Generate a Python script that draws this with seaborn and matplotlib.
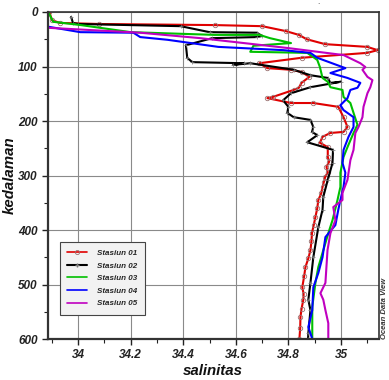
import matplotlib
matplotlib.use("Agg")
import matplotlib.pyplot as plt
import seaborn as sns
import pandas as pd
import numpy as np
from matplotlib.lines import Line2D
from matplotlib.ticker import MultipleLocator

sns.set_style("white")
plt.rcParams['font.family'] = ['Liberation Sans', 'DejaVu Sans']

stations = ["Stasiun 01", "Stasiun 02", "Stasiun 03", "Stasiun 04", "Stasiun 05"]
colors = ["#e00000", "#000000", "#00c000", "#0000ff", "#c000c0"]

# Stasiun 01
s01_sal = [33.89, 33.90, 33.93, 34.08, 34.52, 34.70, 34.79, 34.84, 34.87, 34.94, 35.10, 35.14,
           35.10, 34.85, 34.69, 34.72, 34.81, 34.85, 34.88, 34.85, 34.84, 34.82, 34.74, 34.72,
           34.81, 34.895, 34.99, 35.01, 35.025, 35.01, 34.96, 34.93, 34.92, 34.95, 34.95, 34.955,
           34.945, 34.95, 34.94, 34.935, 34.93, 34.925, 34.914, 34.91, 34.903, 34.897, 34.89,
           34.888, 34.884, 34.876, 34.865, 34.86, 34.853, 34.858, 34.857, 34.85, 34.846, 34.845, 34.842]
s01_dep = [0, 15, 20, 22, 24, 26, 35, 42, 50, 59, 64, 70,
           75, 84, 94, 103, 106, 110, 119, 130, 139, 143, 156, 158,
           167, 167, 174, 193, 211, 220, 222, 229, 240, 248, 266, 275,
           284, 294, 303, 312, 321, 333, 345, 360, 376, 390, 405,
           420, 437, 452, 468, 485, 505, 517, 528, 545, 560, 580, 600]

# Stasiun 02
s02_sal = [33.973, 33.98, 34.0, 34.39, 34.50, 34.68, 34.70, 34.68, 34.51, 34.41, 34.415, 34.434,
           34.63, 34.59, 34.655, 34.82, 34.884, 34.95, 34.96, 35.0, 34.884, 34.81, 34.78, 34.80,
           34.796, 34.82, 34.884, 34.895, 34.89, 34.91, 34.872, 34.97, 34.968, 34.95, 34.933,
           34.93, 34.914, 34.895, 34.884, 34.876, 34.884, 34.876, 34.875]
s02_dep = [9, 20, 22, 26, 37, 38, 44, 46, 48, 61, 84, 92,
           94, 97, 94, 106, 116, 121, 130, 128, 138, 149, 162, 174,
           185, 193, 198, 211, 220, 226, 239, 253, 277, 308, 339,
           363, 395, 450, 497, 528, 547, 589, 600]

# Stasiun 03
s03_sal = [33.886, 33.905, 34.01, 34.20, 34.52, 34.69, 34.73, 34.81, 34.667, 34.655, 34.872, 34.91,
           34.92, 34.93, 34.95, 34.96, 35.006, 35.01, 35.036, 35.048, 35.063, 35.048, 35.025, 35.01,
           34.998, 34.998, 34.987, 34.968, 34.952, 34.933, 34.914, 34.903, 34.891, 34.891]
s03_dep = [0, 18, 24, 37, 42, 42, 48, 57, 62, 73, 75, 88,
           101, 121, 128, 138, 143, 156, 167, 185, 207, 222, 248, 266,
           295, 321, 345, 382, 406, 437, 468, 497, 541, 600]

# Stasiun 04
s04_sal = [33.886, 34.008, 34.21, 34.236, 34.34, 34.533, 34.78, 34.884, 34.91, 35.017, 34.96, 35.025,
           35.074, 35.063, 35.036, 35.025, 34.998, 35.01, 35.048, 35.048, 35.029, 35.01, 35.006, 35.017,
           35.01, 34.998, 34.99, 34.979, 34.941, 34.93, 34.914, 34.895, 34.891, 34.876, 34.891]
s04_dep = [27, 37, 38, 46, 51, 64, 70, 75, 84, 103, 112, 121,
           130, 139, 143, 158, 171, 180, 193, 211, 229, 253, 277, 295,
           321, 345, 363, 391, 413, 450, 479, 505, 547, 578, 600]

# Stasiun 05
s05_sal = [33.886, 34.236, 34.465, 34.796, 35.01, 35.074, 35.093, 35.082, 35.101, 35.12, 35.112, 35.101,
           35.086, 35.082, 35.067, 35.055, 35.048, 35.036, 35.025, 35.006, 35.006, 34.971, 34.979, 34.96,
           34.949, 34.941, 34.922, 34.933, 34.941, 34.952, 34.952]
s05_dep = [29, 38, 48, 66, 79, 94, 101, 106, 119, 125, 138, 149,
           174, 193, 211, 222, 253, 272, 308, 332, 345, 358, 382, 406,
           437, 497, 516, 528, 547, 571, 600]

x_ticks = [34, 34.2, 34.4, 34.6, 34.8, 35]
x_tick_labels = ["34", "34.2", "34.4", "34.6", "34.8", "35"]
y_ticks = [0, 100, 200, 300, 400, 500, 600]

sal_list = [s01_sal, s02_sal, s03_sal, s04_sal, s05_sal]
dep_list = [s01_dep, s02_dep, s03_dep, s04_dep, s05_dep]

frames = []
for name, s, d in zip(stations, sal_list, dep_list):
    frames.append(pd.DataFrame({"salinitas": s, "kedalaman": d, "stasiun": name,
                                "urutan": np.arange(len(s))}))
df = pd.concat(frames, ignore_index=True)

W, H = 389, 380
fig = plt.figure(figsize=(W/100, H/100), dpi=100)
ax = fig.add_axes([48/W, 1-339/H, (379-48)/W, (339-12)/H])

ax.set_xticks(x_ticks)
ax.set_xticklabels(x_tick_labels)
ax.set_yticks(y_ticks)
ax.xaxis.set_minor_locator(MultipleLocator(0.1))
ax.yaxis.set_minor_locator(MultipleLocator(50))
ax.grid(True, which="major", color="#8a8a8a", lw=0.8, zorder=0)
ax.set_axisbelow(True)

markers = ["o", "+", None, None, None]
for name, col, mk in zip(stations, colors, markers):
    sub = df[df["stasiun"] == name]
    kw = {}
    if mk == "o":
        kw = dict(marker="o", markersize=3.2, markerfacecolor="none",
                  markeredgecolor="#9a7070", markeredgewidth=0.6)
    elif mk == "+":
        kw = dict(marker="+", markersize=2.5, markeredgecolor="#777777", markeredgewidth=0.5)
    sns.lineplot(data=sub, x="salinitas", y="kedalaman", sort=False, estimator=None,
                 color=col, lw=1.5, ax=ax, legend=False, **kw)

ax.set_xlim(33.885, 35.145)
ax.set_ylim(600, 0)
ax.set_xlabel("")
ax.set_ylabel("")

for sp in ax.spines.values():
    sp.set_color("#333333")
    sp.set_linewidth(1.2)
ax.spines["left"].set_linewidth(1.6)
ax.spines["bottom"].set_linewidth(1.6)

ax.tick_params(axis="both", which="major", direction="out", length=4, width=1,
               colors="#222222", labelsize=8.5, bottom=True, left=True, top=False, right=False)
ax.tick_params(axis="both", which="minor", direction="out", length=3, width=0.8,
               colors="#222222", bottom=True, left=True, top=False, right=False)
for lab in ax.get_xticklabels() + ax.get_yticklabels():
    lab.set_fontweight("bold")
    lab.set_fontstyle("italic")

fig.text(213/W, 1-371/H, "salinitas", fontsize=10.8, fontweight="bold", fontstyle="italic",
         ha="center", va="center", color="#111111")
fig.text(10/W, 1-175/H, "kedalaman", fontsize=10.8, fontweight="bold", fontstyle="italic",
         rotation=90, ha="center", va="center", color="#111111")

handles = []
for name, col, mk in zip(stations, colors, markers):
    if mk == "o":
        h = Line2D([], [], color=col, lw=1.2, marker="o", markersize=3, markerfacecolor="none",
                   markeredgecolor="#9a7070", markeredgewidth=0.6)
    elif mk == "+":
        h = Line2D([], [], color=col, lw=1.5, marker="+", markersize=3, markeredgecolor="#777777")
    else:
        h = Line2D([], [], color=col, lw=1.2)
    handles.append(h)
leg = ax.legend(handles, stations, loc="upper left",
                bbox_to_anchor=((60-48)/331, 1-(242-12)/327), borderaxespad=0,
                frameon=True, fancybox=False, framealpha=1, edgecolor="#444444",
                facecolor="#f2f2f2", handlelength=2.5, handletextpad=1.2,
                borderpad=0.9, labelspacing=0.62,
                prop={"size": 5.8, "weight": "bold", "style": "italic"})
leg.get_frame().set_linewidth(0.8)

fig.text(385/W, 1-308/H, "Ocean Data View", rotation=90, fontsize=5.5,
         fontweight="bold", fontstyle="italic", color="#333333", ha="center", va="center")
fig.text(318/W, 1-3/H, ".", fontsize=6, color="#333333", ha="center", va="center")

fig.savefig("out.png", dpi=100)
